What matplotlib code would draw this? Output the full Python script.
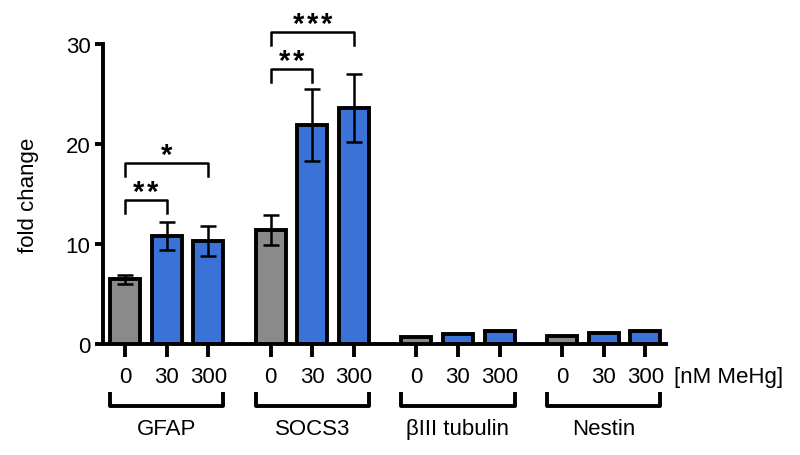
import matplotlib.pyplot as plt
import numpy as np

plt.rcParams['font.family'] = ['Liberation Sans', 'DejaVu Sans']

genes = ['GFAP', 'SOCS3', '\u03b2III tubulin', 'Nestin']
doses = ['0', '30', '300']
means = [[6.5, 10.8, 10.3],
         [11.4, 21.9, 23.6],
         [0.75, 1.0, 1.3],
         [0.8, 1.1, 1.35]]
errs = [[0.45, 1.4, 1.5],
        [1.5, 3.6, 3.4],
        [0.0, 0.0, 0.0],
        [0.0, 0.0, 0.0]]
# significance: (gene index, dose a, dose b, bracket height, number of stars)
sig = [(0, 0, 1, 14.4, 2),
       (0, 0, 2, 18.1, 1),
       (1, 0, 1, 27.5, 2),
       (1, 0, 2, 31.2, 3)]

GRAY = '#8a8a8a'
BLUE = '#3a72d8'
group_step = 3.5

fig = plt.figure(figsize=(8, 4.56), dpi=100)
ax = fig.add_axes([103 / 800, 1 - 345 / 456, 563 / 800, 300 / 456])

xs = []
for g in range(len(genes)):
    x = g * group_step + np.arange(len(doses))
    xs.extend(x)
    colors = [GRAY, BLUE, BLUE]
    ax.bar(x, means[g], width=0.72, color=colors, edgecolor='black',
           linewidth=2.8, zorder=3)
    e = np.array(errs[g])
    keep = e > 0
    if keep.any():
        ax.errorbar(x[keep], np.array(means[g])[keep], yerr=e[keep], fmt='none',
                    ecolor='black', elinewidth=1.8, capsize=6, capthick=1.8,
                    zorder=4)
    # group bracket below the axis
    lo, hi = x[0] - 0.36, x[-1] + 0.36
    ax.plot([lo, lo, hi, hi], [-4.8, -6.2, -6.2, -4.8], color='black',
            lw=2.8, clip_on=False, solid_capstyle='butt')
    ax.text((lo + hi) / 2, -8.5, genes[g], ha='center', va='center',
            fontsize=16, clip_on=False)

for g, a, b, h, n in sig:
    xa = g * group_step + a
    xb = g * group_step + b
    ax.plot([xa, xa, xb, xb], [h - 1.25, h, h, h - 1.25], color='black',
            lw=1.8, clip_on=False)
    for k in range(n):
        off = (k - (n - 1) / 2) * 10
        ax.annotate('*', xy=((xa + xb) / 2, h), xytext=(off, 0),
                    textcoords='offset points', ha='center', va='baseline',
                    fontsize=21, fontweight='bold', annotation_clip=False)

ax.set_xticks(xs)
ax.set_xticklabels(doses * len(genes), fontsize=16)
ax.tick_params(axis='x', length=9, width=2.8, pad=7)
ax.tick_params(axis='y', length=6, width=2.8, labelsize=16, pad=3)
ax.set_yticks([0, 10, 20, 30])
ax.set_ylim(0, 30)
ax.set_xlim(-0.53, 13.0)
for s in ['top', 'right']:
    ax.spines[s].set_visible(False)
for s in ['left', 'bottom']:
    ax.spines[s].set_linewidth(2.8)
ax.set_ylabel('fold change', fontsize=16, labelpad=19)
ax.text(13.2, -3.3, '[nM MeHg]', ha='left', va='center', fontsize=16,
        clip_on=False)

fig.savefig('out.png', dpi=100)
